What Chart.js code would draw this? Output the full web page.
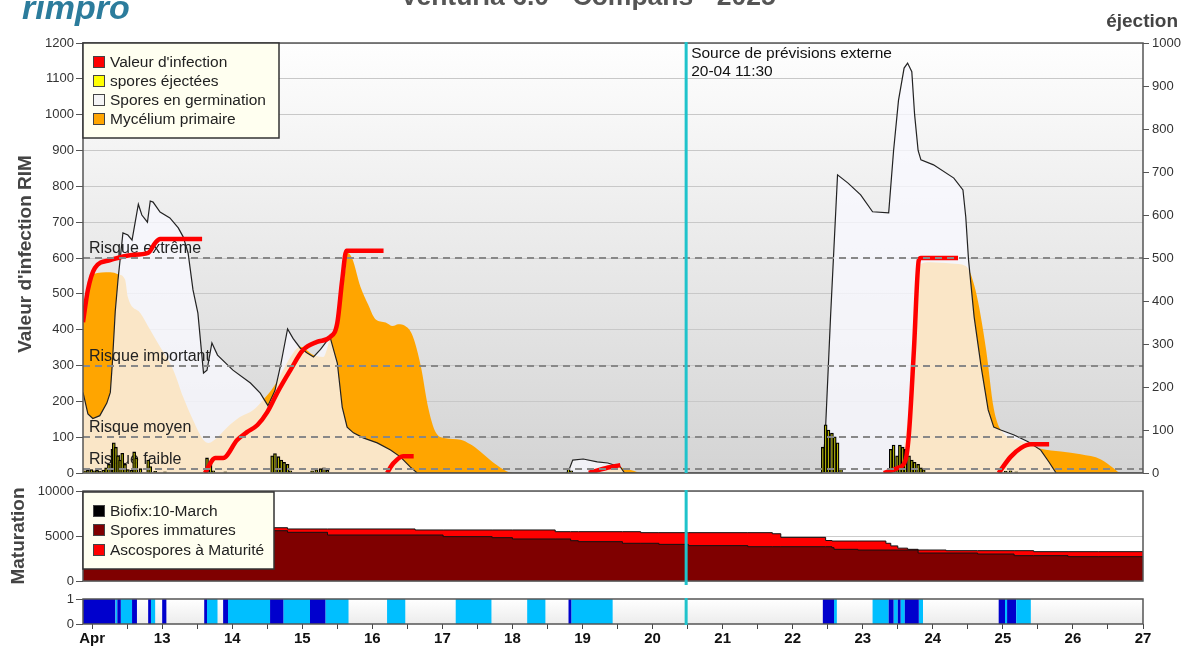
<!DOCTYPE html>
<html>
<head>
<meta charset="utf-8">
<script src="https://cdn.jsdelivr.net/npm/chart.js@4.4.1/dist/chart.umd.min.js"></script>
<style>
body { margin: 0; background: #fff; width: 1191px; height: 648px; overflow: hidden; position: relative; }
canvas { position: absolute; left: 0; }
#rim { top: 0; }
#mat { top: 478px; }
#wet { top: 585px; }
</style>
</head>
<body>
<canvas id="rim" width="1191" height="490"></canvas>
<canvas id="mat" width="1191" height="120"></canvas>
<canvas id="wet" width="1191" height="63"></canvas>
<script>
// x values are days of April (decimal), e.g. 12.5 = 12 Apr 12:00

// infection value (red line), null = gap between infections
const infTimes = [11.87,11.94,12.04,12.26,12.54,12.80,12.90,12.97,13.57, 13.59,
  13.61,13.76,13.87,14.07,14.21,14.36,14.50,14.64,14.83,15.01,15.21,15.40,15.50,15.57,15.63,16.16, 16.18,
  16.21,16.30,16.44,16.59, 16.60,
  19.09,19.30,19.54, 19.60,
  23.30,23.50,23.61,23.66,23.73,23.80,23.83,24.36, 24.40,
  24.94,25.11,25.26,25.40,25.66];
const infValues = [421,511,572,594,608,614,642,653,653, null,
  0,42,42,92,114,134,170,223,287,343,366,380,419,539,620,620, null,
  0,27,47,47, null,
  0,12,22, null,
  0,14,36,112,343,594,600,600, null,
  0,45,70,80,80];

// spores en germination
const germTimes = [11.87,11.94,12.01,12.11,12.21,12.26,12.29,12.33,12.37,12.44,12.51,12.57,12.66,12.71,12.79,12.83,12.87,12.97,
  13.11,13.23,13.30,13.37,13.44,13.51,13.59,13.64,13.71,13.79,14.01,14.26,14.40,14.51,14.61,14.69,14.79,14.87,14.97,
  15.07,15.16,15.26,15.36,15.40,15.50,15.57,15.64,15.73,15.87,16.07,16.26,16.40,16.54,16.64,
  18.77,18.80,18.86,19.01,19.21,19.36,19.54,19.60,
  22.40,22.43,22.47,22.54,22.64,22.79,22.97,23.14,23.37,23.44,23.51,23.59,23.64,23.70,23.74,23.79,23.83,
  24.01,24.30,24.43,24.47,24.51,24.59,24.69,24.79,24.87,24.97,25.16,25.36,25.54,25.66,25.76,27.0];
const germValues = [225,165,152,160,195,225,310,450,540,670,664,650,750,720,700,759,756,728,
  712,684,659,614,511,446,279,287,363,329,287,251,223,188,230,300,402,375,349,
  335,324,345,371,377,307,184,128,112,98,84,64,45,17,0,
  0,5,36,39,31,28,17,0,
  0,5,130,435,832,809,776,729,726,900,1040,1130,1144,1120,1000,900,874,
  860,823,790,715,594,435,296,176,128,120,106,87,64,30,0,0];

// mycelium primaire
const mycTimes = [11.87,11.94,12.01,12.26,12.37,12.47,12.51,12.69,12.83,12.97,13.16,13.30,13.44,13.59,13.66,13.79,13.93,
  14.11,14.30,14.44,14.59,14.87,14.97,15.16,15.30,15.40,15.50,15.61,15.64,15.71,15.83,15.94,16.04,16.19,16.29,16.37,
  16.47,16.57,16.69,16.80,16.90,17.04,17.26,17.40,17.54,17.69,17.83,18.00,
  19.20,19.40,19.55,19.70,19.85,
  23.50,23.61,23.73,23.80,23.97,24.26,24.47,24.61,24.76,24.87,24.97,25.26,25.54,25.83,26.11,26.40,26.57,26.69,27.0];
const mycValues = [440,520,555,560,555,540,491,446,399,352,287,212,148,92,84,100,128,
  156,176,204,240,335,352,329,324,377,427,560,615,600,520,470,430,420,410,415,
  410,385,300,180,115,97,93,80,60,35,15,0,
  0,10,15,8,0,
  0,100,340,580,588,585,578,510,345,180,120,90,68,60,52,38,15,0,0];

// spores ejectees (right axis)
const ejTimes = [11.90,11.94,11.99,12.03,12.07,12.11,12.16,12.20,12.24,12.29,12.31,12.34,12.37,12.40,12.43,12.47,12.51,12.56,12.60,12.63,12.69,12.80,12.83,12.90,13.04,
  13.64,13.69,13.73,13.90,
  14.57,14.61,14.66,14.70,14.74,14.79,14.83,
  15.14,15.20,15.26,15.31,15.36,
  18.80,18.84,
  22.43,22.47,22.51,22.56,22.60,22.64,22.69,
  23.40,23.44,23.49,23.53,23.57,23.61,23.66,23.70,23.74,23.79,23.83,23.87,
  24.97,25.04,25.11,25.19];
const ejValues = [5,6,8,5,6,4,7,12,20,55,70,60,40,30,46,20,8,6,49,35,10,30,15,4,3,
  35,25,5,3,
  40,45,38,30,25,20,5,
  5,8,10,12,6,
  10,5,
  60,112,100,93,84,70,10,
  55,65,40,65,60,55,40,30,25,20,12,8,
  3,4,5,3];

// maturation (step values)
const matTimes = [11.87,14.79,15.36,16.61,17.01,17.71,18.00,18.61,18.83,18.94,19.57,19.83,20.09,20.51,21.36,21.71,21.83,
  22.47,22.56,22.59,22.93,23.33,23.40,23.50,23.64,23.79,24.19,24.64,25.16,25.44,25.93,26.36,27.0];
const immatureValues = [5670,5590,5410,5110,5110,4930,4815,4670,4670,4480,4370,4190,4190,4070,3930,3810,3810,
  3810,3810,3700,3520,3440,3440,3440,3440,3440,3110,3110,3000,2815,2815,2700,2700];
const matureValues = [630,330,370,670,560,740,855,1000,810,1000,1110,1290,1180,1300,1440,1560,1440,
  1040,690,740,920,1000,750,460,210,80,330,260,370,555,445,560,560];

// leaf wetness periods
const wetDarkStart = [11.87,12.36,12.57,12.80,13.00,13.60,13.87,14.54,15.11,18.80,22.43,23.37,23.50,23.60,24.94,25.06];
const wetDarkEnd   = [12.33,12.41,12.64,12.84,13.06,13.64,13.94,14.73,15.33,18.84,22.59,23.44,23.54,23.80,25.03,25.19];
const wetLightStart = [12.33,12.41,12.84,13.64,13.94,14.73,15.33,16.21,17.19,18.21,18.84,22.59,23.14,23.44,23.54,23.80,25.03,25.19];
const wetLightEnd   = [12.36,12.57,12.90,13.79,14.54,15.11,15.66,16.47,17.70,18.47,19.43,22.63,23.37,23.50,23.60,23.86,25.06,25.40];

const riskLevels = [600, 300, 100, 10];
const riskLabels = ['Risque extrême', 'Risque important', 'Risque moyen', 'Risque faible'];

const dayTicks = [12,13,14,15,16,17,18,19,20,21,22,23,24,25,26,27];
const dayLabels = ['Apr','13','14','15','16','17','18','19','20','21','22','23','24','25','26','27'];

const forecastTime = 20.479;

const rimLegendNames = ["Valeur d'infection", 'spores éjectées', 'Spores en germination', 'Mycélium primaire'];
const rimLegendColors = ['#FF0000', '#FFFF00', '#F4F4F4', '#FFA500'];
const matLegendNames = ['Biofix:10-March', 'Spores immatures', 'Ascospores à Maturité'];
const matLegendColors = ['#000000', '#7F0000', '#FF0000'];

const X_MIN = 11.87, X_MAX = 27;
const FONT = '"Liberation Sans", Arial, sans-serif';
const tickFont = { family: FONT, size: 13 };
const CYAN = '#1fc3cb';
const plainTick = v => String(v);

function pts(times, values) {
  return times.map((t, i) => ({ x: t, y: values[i] }));
}

// rectangles 0..1 for each wet period
function wetRects(starts, ends) {
  const out = [];
  starts.forEach((s, i) => {
    out.push({ x: s, y: 0 }, { x: s, y: 1 }, { x: ends[i], y: 1 }, { x: ends[i], y: 0 });
  });
  return out;
}

function fillBg(chart, top, bottom) {
  const { ctx, chartArea: a } = chart;
  const g = ctx.createLinearGradient(0, a.top, 0, a.bottom);
  g.addColorStop(0, top);
  g.addColorStop(1, bottom);
  ctx.save();
  ctx.fillStyle = g;
  ctx.fillRect(a.left, a.top, a.right - a.left, a.bottom - a.top);
  ctx.restore();
}

function frameAndCursor(chart, extra) {
  const { ctx, chartArea: a } = chart;
  ctx.save();
  ctx.strokeStyle = '#555';
  ctx.lineWidth = 1.5;
  ctx.strokeRect(a.left, a.top, a.right - a.left, a.bottom - a.top);
  const cx = chart.scales.x.getPixelForValue(forecastTime);
  ctx.strokeStyle = CYAN;
  ctx.lineWidth = 3;
  ctx.beginPath();
  ctx.moveTo(cx, a.top - 1);
  ctx.lineTo(cx, a.bottom + extra);
  ctx.stroke();
  ctx.restore();
  return cx;
}

function drawLegend(ctx, x, y, w, h, rows, names, colors) {
  ctx.save();
  ctx.fillStyle = '#FFFFF0';
  ctx.fillRect(x, y, w, h);
  ctx.strokeStyle = '#333';
  ctx.lineWidth = 1.5;
  ctx.strokeRect(x, y, w, h);
  ctx.font = '15.5px ' + FONT;
  ctx.textBaseline = 'middle';
  ctx.textAlign = 'left';
  names.forEach((n, i) => {
    const cy = rows[i];
    ctx.fillStyle = colors[i];
    ctx.fillRect(x + 10.5, cy - 5.5, 11, 11);
    ctx.strokeStyle = '#444';
    ctx.lineWidth = 1;
    ctx.strokeRect(x + 10.5, cy - 5.5, 11, 11);
    ctx.fillStyle = '#222';
    ctx.fillText(n, x + 27, cy + 1);
  });
  ctx.restore();
}

function rotatedTitle(ctx, text, x, y) {
  ctx.save();
  ctx.translate(x, y);
  ctx.rotate(-Math.PI / 2);
  ctx.font = 'bold 19px ' + FONT;
  ctx.fillStyle = '#444';
  ctx.textAlign = 'center';
  ctx.textBaseline = 'middle';
  ctx.fillText(text, 0, 0);
  ctx.restore();
}

const baseOpts = {
  responsive: false,
  animation: false,
  devicePixelRatio: 1,
  plugins: { legend: { display: false }, tooltip: { enabled: false } }
};

// ---------- main RIM chart ----------
const rimDecor = {
  id: 'rimDecor',
  beforeDraw(chart) { fillBg(chart, '#fefefe', '#d4d4d4'); },
  // risk labels go above the areas but under the bars and red line
  afterDatasetDraw(chart, args) {
    if (args.index !== 2) return;
    const { ctx, chartArea: a, scales } = chart;
    ctx.save();
    ctx.font = '16px ' + FONT;
    ctx.fillStyle = '#222';
    ctx.textAlign = 'left';
    ctx.textBaseline = 'alphabetic';
    riskLevels.forEach((v, i) => {
      ctx.fillText(riskLabels[i], a.left + 6, scales.y.getPixelForValue(v) - 5);
    });
    ctx.restore();
  },
  afterDatasetsDraw(chart) {
    const { ctx, chartArea: a, scales } = chart;
    ctx.save();
    ctx.strokeStyle = '#888';
    ctx.lineWidth = 2;
    ctx.setLineDash([7, 5]);
    riskLevels.forEach(v => {
      const y = Math.round(scales.y.getPixelForValue(v));
      ctx.beginPath();
      ctx.moveTo(a.left, y);
      ctx.lineTo(a.right, y);
      ctx.stroke();
    });
    ctx.restore();
    const cx = frameAndCursor(chart, 0);
    drawLegend(ctx, 83, 43, 196, 95, [62, 81, 100, 119], rimLegendNames, rimLegendColors);
    ctx.save();
    ctx.font = '15.5px ' + FONT;
    ctx.fillStyle = '#111';
    ctx.textAlign = 'left';
    ctx.textBaseline = 'alphabetic';
    ctx.fillText('Source de prévisions externe', cx + 5, 58);
    ctx.fillText('20-04 11:30', cx + 5, 76);
    ctx.restore();
  },
  afterDraw(chart) {
    const ctx = chart.ctx;
    ctx.save();
    ctx.textBaseline = 'alphabetic';
    ctx.font = 'bold 26.5px ' + FONT;
    ctx.fillStyle = '#555';
    ctx.textAlign = 'center';
    ctx.fillText('Venturia 6.0 - Compans - 2025', 588, 5);
    ctx.font = 'italic bold 34px ' + FONT;
    ctx.fillStyle = '#2c7c9c';
    ctx.textAlign = 'left';
    ctx.fillText('rimpro', 22, 19);
    ctx.font = 'bold 19px ' + FONT;
    ctx.fillStyle = '#444';
    ctx.textAlign = 'right';
    ctx.fillText('éjection', 1178, 27);
    ctx.restore();
    rotatedTitle(ctx, "Valeur d'infection RIM", 26, 254);
  }
};

new Chart(document.getElementById('rim'), {
  type: 'line',
  data: {
    datasets: [
      { label: "Valeur d'infection", data: pts(infTimes, infValues), yAxisID: 'y',
        borderColor: '#FF0000', borderWidth: 4.5, pointRadius: 0, fill: false,
        cubicInterpolationMode: 'monotone', spanGaps: false, order: 0 },
      { type: 'bar', label: 'spores éjectées', data: pts(ejTimes, ejValues), yAxisID: 'yR',
        backgroundColor: '#B8B800', borderColor: '#000', borderWidth: 1.3, barThickness: 3, order: 1 },
      { label: 'Spores en germination', data: pts(germTimes, germValues), yAxisID: 'y',
        borderColor: '#222', borderWidth: 1.2, backgroundColor: 'rgba(248,248,255,0.78)',
        fill: 'origin', pointRadius: 0, tension: 0, order: 2 },
      { label: 'Mycélium primaire', data: pts(mycTimes, mycValues), yAxisID: 'y',
        borderWidth: 0, backgroundColor: '#FFA500', fill: 'origin', pointRadius: 0,
        cubicInterpolationMode: 'monotone', order: 3 }
    ]
  },
  options: Object.assign({}, baseOpts, {
    layout: { padding: { top: 43, bottom: 17, left: 0, right: 0 } },
    scales: {
      x: { type: 'linear', min: X_MIN, max: X_MAX, offset: false, display: false },
      y: { position: 'left', min: 0, max: 1200,
        ticks: { stepSize: 100, font: tickFont, color: '#333', padding: 2, callback: plainTick },
        grid: { color: '#c8c8c8', tickColor: '#555', tickLength: 7 },
        border: { display: false },
        afterFit: s => { s.width = 83; } },
      yR: { position: 'right', min: 0, max: 1000,
        ticks: { stepSize: 100, font: tickFont, color: '#333', padding: 3, callback: plainTick },
        grid: { drawOnChartArea: false, tickColor: '#555', tickLength: 6 },
        border: { display: false },
        afterFit: s => { s.width = 48; } }
    }
  }),
  plugins: [rimDecor]
});

// ---------- maturation chart ----------
const matDecor = {
  id: 'matDecor',
  beforeDraw(chart) { fillBg(chart, '#ffffff', '#ffffff'); },
  afterDatasetsDraw(chart) {
    frameAndCursor(chart, 4);
    drawLegend(chart.ctx, 83, 14, 191, 77, [33, 52, 72], matLegendNames, matLegendColors);
  },
  afterDraw(chart) { rotatedTitle(chart.ctx, 'Maturation', 19, 58); }
};

new Chart(document.getElementById('mat'), {
  type: 'line',
  data: {
    datasets: [
      { label: 'Spores immatures', data: pts(matTimes, immatureValues),
        backgroundColor: '#7F0000', borderColor: '#111', borderWidth: 1, fill: 'origin',
        stepped: 'after', pointRadius: 0, order: 0 },
      { label: 'Ascospores à Maturité',
        data: matTimes.map((t, i) => ({ x: t, y: immatureValues[i] + matureValues[i] })),
        backgroundColor: '#FF0000', borderColor: '#111', borderWidth: 1, fill: 'origin',
        stepped: 'after', pointRadius: 0, order: 1 }
    ]
  },
  options: Object.assign({}, baseOpts, {
    layout: { padding: { top: 13, bottom: 17, left: 0, right: 48 } },
    scales: {
      x: { type: 'linear', min: X_MIN, max: X_MAX, offset: false, display: false },
      y: { min: 0, max: 10000,
        ticks: { stepSize: 5000, font: tickFont, color: '#333', padding: 2, callback: plainTick },
        grid: { color: '#cccccc', tickColor: '#555', tickLength: 7 },
        border: { display: false },
        afterFit: s => { s.width = 83; } }
    }
  }),
  plugins: [matDecor]
});

// ---------- wetness chart ----------
const halfTicks = [];
dayTicks.forEach(d => { halfTicks.push(d); if (d < X_MAX) halfTicks.push(d + 0.5); });

const wetDecor = {
  id: 'wetDecor',
  beforeDraw(chart) { fillBg(chart, '#ffffff', '#ececec'); },
  afterDatasetsDraw(chart) { frameAndCursor(chart, 1); }
};

new Chart(document.getElementById('wet'), {
  type: 'line',
  data: {
    datasets: [
      { label: 'mouillé', data: wetRects(wetDarkStart, wetDarkEnd), backgroundColor: '#0000CD',
        borderWidth: 0, fill: 'origin', tension: 0, pointRadius: 0 },
      { label: 'humide', data: wetRects(wetLightStart, wetLightEnd), backgroundColor: '#00BFFF',
        borderWidth: 0, fill: 'origin', tension: 0, pointRadius: 0 }
    ]
  },
  options: Object.assign({}, baseOpts, {
    layout: { padding: { top: 14, bottom: 0, left: 0, right: 48 } },
    scales: {
      x: { type: 'linear', min: X_MIN, max: X_MAX, offset: false,
        grid: { drawOnChartArea: false, tickLength: 5, tickColor: '#444' },
        border: { display: false },
        ticks: { font: { family: FONT, size: 15, weight: 'bold' }, color: '#111', padding: 1,
          autoSkip: false, maxRotation: 0,
          callback: v => { const i = dayTicks.indexOf(v); return i >= 0 ? dayLabels[i] : ''; } },
        afterBuildTicks: s => { s.ticks = halfTicks.map(v => ({ value: v })); },
        afterFit: s => { s.height = 24; } },
      y: { min: 0, max: 1,
        ticks: { stepSize: 1, font: tickFont, color: '#333', padding: 2, callback: plainTick },
        grid: { drawOnChartArea: false, tickColor: '#555', tickLength: 7 },
        border: { display: false },
        afterFit: s => { s.width = 83; } }
    }
  }),
  plugins: [wetDecor]
});
</script>
</body>
</html>
